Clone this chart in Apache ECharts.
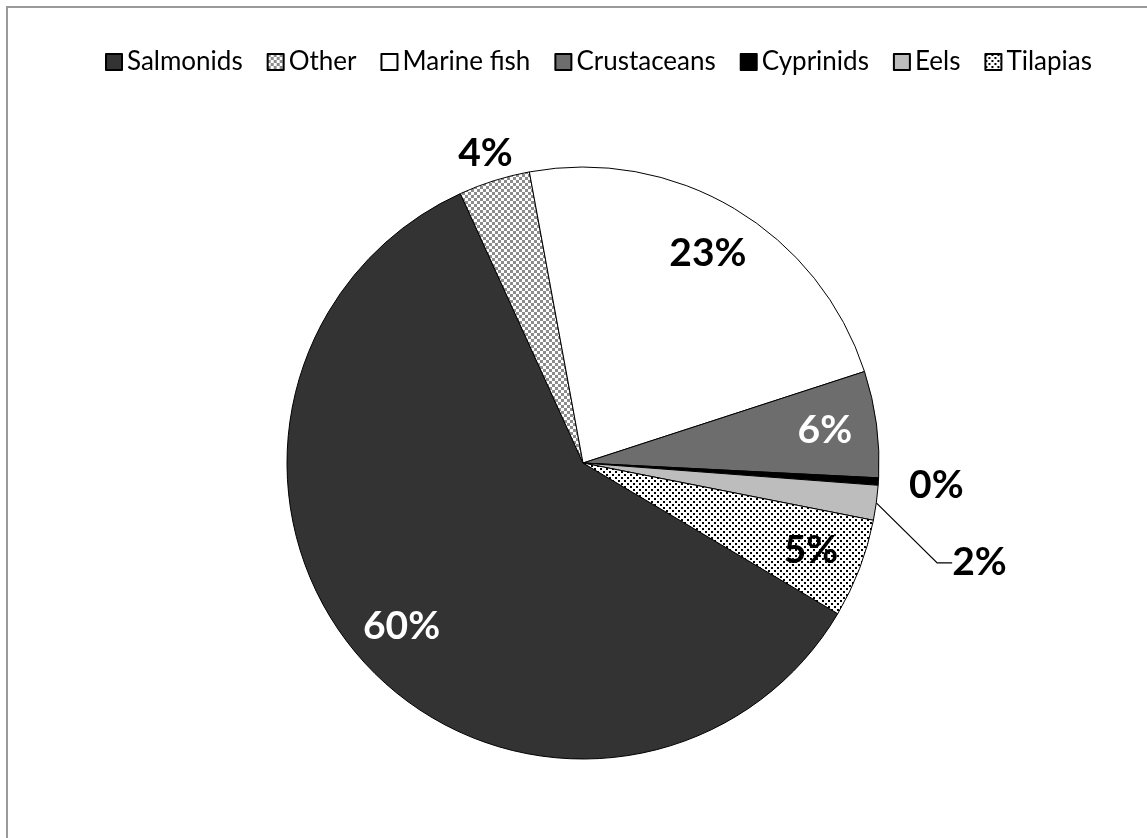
<!DOCTYPE html>
<html><head><meta charset="utf-8">
<script src="https://cdn.jsdelivr.net/npm/echarts@6/dist/echarts.min.js"></script>
<style>
html,body{margin:0;padding:0;background:#fff;overflow:hidden;width:1147px;height:838px;}
#chart{position:absolute;left:0;top:0;width:1147px;height:838px;}
#frame{position:absolute;left:6px;top:6px;width:1200px;height:900px;border-left:2px solid #9a9a9a;border-top:2px solid #9a9a9a;pointer-events:none;}
</style></head><body>
<div id="chart"></div>
<div id="frame"></div>
<script>
// ---- data ----
const categories = ['Salmonids', 'Other', 'Marine fish', 'Crustaceans', 'Cyprinids', 'Eels', 'Tilapias'];
const shares = [59.7, 3.9, 22.9, 5.8, 0.4, 1.9, 5.4];
const insideLabelled = ['Salmonids', 'Marine fish', 'Crustaceans', 'Tilapias'];
const farLabelled = ['Other'];
const farthestLabelled = ['Cyprinids'];
const leaderLabelled = ['Eels'];

// ---- styles ----
function makePattern(w, h, draw) {
  const c = document.createElement('canvas');
  c.width = w; c.height = h;
  const g = c.getContext('2d');
  draw(g);
  return c;
}
const checkerCanvas = makePattern(6, 6, g => {
  g.fillStyle = '#ffffff'; g.fillRect(0, 0, 6, 6);
  g.fillStyle = '#8c8c8c'; g.fillRect(0, 0, 3, 3); g.fillRect(3, 3, 3, 3);
});
const dotCanvas = makePattern(6, 6, g => {
  g.fillStyle = '#ffffff'; g.fillRect(0, 0, 6, 6);
  g.fillStyle = '#000000'; g.fillRect(0, 0, 2, 2); g.fillRect(3, 3, 2, 2);
});
const fillByName = {
  'Salmonids': '#333333',
  'Other': { image: checkerCanvas, repeat: 'repeat' },
  'Marine fish': '#ffffff',
  'Crustaceans': '#6d6d6d',
  'Cyprinids': '#000000',
  'Eels': '#bdbdbd',
  'Tilapias': { image: dotCanvas, repeat: 'repeat' }
};
const labelColorByName = {
  'Salmonids': '#ffffff', 'Marine fish': '#000000', 'Crustaceans': '#ffffff', 'Tilapias': '#000000',
  'Other': '#000000', 'Cyprinids': '#000000', 'Eels': '#000000'
};
const FONT = 'Lato, "Open Sans", sans-serif';
const labelFont = { fontFamily: FONT, fontWeight: 'bold', fontSize: 39 };
const CX = 583, CY = 463, R = 296;
const START = -30.6;

const chart = echarts.init(document.getElementById('chart'), null, { renderer: 'canvas' });

function overlay(radius, names) {
  return {
    type: 'pie', center: [CX, CY], radius: radius, startAngle: START, clockwise: true,
    silent: true, avoidLabelOverlap: false, percentPrecision: 0,
    emphasis: { disabled: true },
    itemStyle: { color: 'rgba(0,0,0,0)', borderWidth: 0 },
    labelLine: { show: false },
    data: categories.map((n, i) => ({
      name: n, value: shares[i],
      label: Object.assign({
        show: names.indexOf(n) >= 0, position: 'inside', formatter: '{d}%',
        color: labelColorByName[n]
      }, labelFont)
    }))
  };
}

const mainSeries = {
  type: 'pie', center: [CX, CY], radius: R, startAngle: START, clockwise: true,
  avoidLabelOverlap: false, percentPrecision: 0,
  emphasis: { disabled: true },
  itemStyle: { borderColor: '#000000', borderWidth: 1 },
  label: { show: false },
  labelLine: { show: false },
  data: categories.map((n, i) => {
    const lead = leaderLabelled.indexOf(n) >= 0;
    return {
      name: n, value: shares[i],
      itemStyle: { color: fillByName[n] },
      label: Object.assign({ show: lead, position: 'outside', formatter: '{d}%', color: '#000' }, labelFont),
      labelLine: { show: lead, length: 15, length2: 15, lineStyle: { color: '#000', width: 1.2 } }
    };
  }),
  labelLayout: function (p) {
    if (leaderLabelled.indexOf(categories[p.dataIndex]) >= 0) {
      return { x: p.labelRect.x + 41, y: p.labelRect.y + p.labelRect.height / 2 + 58 };
    }
  }
};

chart.setOption({
  backgroundColor: 'transparent',
  animation: false,
  legend: {
    data: categories, left: 100, top: 44, icon: 'rect',
    itemWidth: 16, itemHeight: 16, itemGap: 24, selectedMode: false,
    textStyle: { fontFamily: FONT, fontSize: 26, color: '#000' }
  },
  series: [
    mainSeries,
    overlay([186, R], insideLabelled),
    overlay([308, 336], farLabelled),
    overlay([336, 366], farthestLabelled)
  ]
});
</script>
</body></html>
